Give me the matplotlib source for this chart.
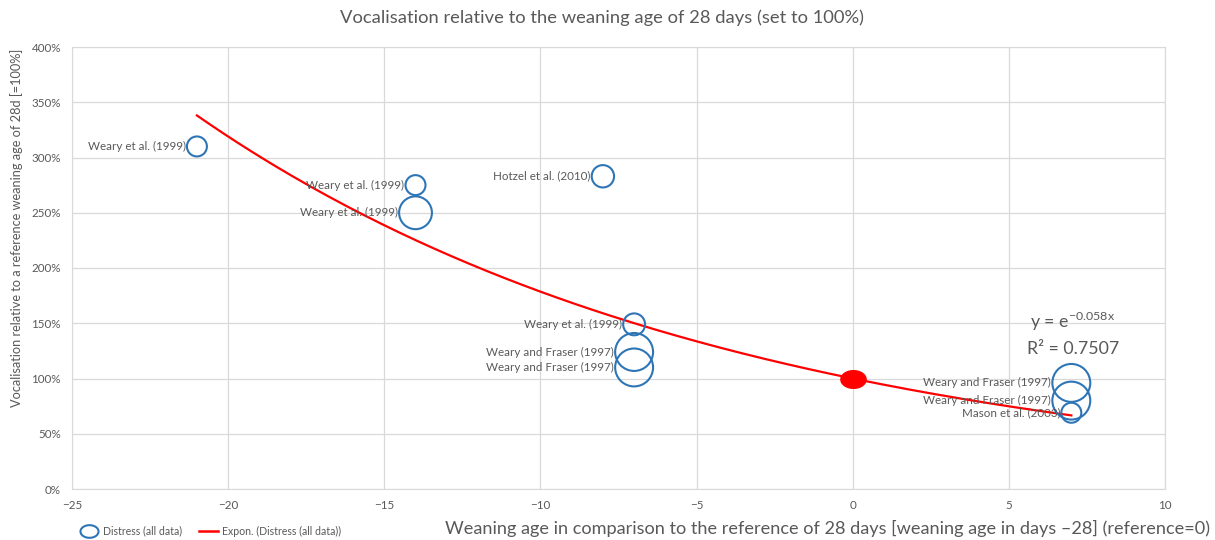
import numpy as np
import matplotlib.pyplot as plt
from matplotlib.lines import Line2D
from matplotlib.path import Path

# weaning age relative to 28 days, vocalisation in % of reference
age_diff = [-21, -14, -14, -8, -7, -7, -7, 7, 7, 7]
vocal = [310, 275, 250, 283, 149, 124, 110, 96, 80, 69]
bubble = [1.0, 1.0, 2.7, 1.25, 1.2, 3.6, 3.6, 3.6, 3.6, 1.0]
labels = ['Weary et al. (1999)', 'Weary et al. (1999)', 'Weary et al. (1999)',
          'Hotzel et al. (2010)', 'Weary et al. (1999)', 'Weary and Fraser (1997)',
          'Weary and Fraser (1997)', 'Weary and Fraser (1997)', 'Weary and Fraser (1997)',
          'Mason et al. (2003)']
ref_x, ref_y = 0, 100
trend_k = -0.058  # from trendline equation
r2 = 0.7507

grey = '#595959'
blue = '#2e75b6'
plt.rcParams['font.family'] = ['Lato', 'DejaVu Sans']

fig = plt.figure(figsize=(12.15, 5.4), dpi=100)
ax = fig.add_axes([72/1215, 51/540, 1093/1215, 442/540])

# bubble area in pt^2 (size 1 -> ~10 px radius)
s_unit = 207
sizes = [s_unit * b for b in bubble]
ax.scatter(age_diff, vocal, s=sizes, facecolors='none', edgecolors=blue, linewidths=1.5, zorder=3)

# reference point, drawn as a flat red ellipse
t = np.linspace(0, 2 * np.pi, 60)
ell = Path(np.column_stack([np.cos(t), 0.7 * np.sin(t)]), closed=True)
ax.scatter([ref_x], [ref_y], s=330, marker=ell, color='red', zorder=4)

# exponential trend line
xt = np.linspace(min(age_diff), max(age_diff), 200)
ax.plot(xt, 100 * np.exp(trend_k * xt), color='red', lw=1.6, zorder=2)

# data labels left of each bubble
for x, y, s, lab in zip(age_diff, vocal, sizes, labels):
    off = np.sqrt(s) / 2 + 0.8
    ax.annotate(lab, (x, y), xytext=(-off, 0), textcoords='offset points',
                ha='right', va='center', fontsize=8.4, color=grey, zorder=5)

ax.text(7.05, 146, r'y = e$^{\mathregular{-0.058x}}$', fontsize=12.8, color=grey, ha='center', va='baseline')
ax.text(7.05, 122, 'R² = %.4f' % r2, fontsize=12.8, color=grey, ha='center', va='baseline')

ax.set_xlim(-25, 10)
ax.set_ylim(0, 400)
ax.set_xticks(np.arange(-25, 11, 5))
ax.set_yticks(np.arange(0, 401, 50))
ax.set_yticklabels(['%d%%' % v for v in range(0, 401, 50)])
ax.tick_params(length=0, labelsize=8.4, colors=grey, pad=8)
ax.grid(True, color='#d9d9d9', lw=0.9)
ax.set_axisbelow(True)
for sp in ax.spines.values():
    sp.set_color('#d9d9d9')

fig.text(602/1215, 1 - 18/540, 'Vocalisation relative to the weaning age of 28 days (set to 100%)',
         ha='center', va='center', fontsize=13.2, color=grey)
fig.text(17/1215, 1 - 228/540, 'Vocalisation relative to a reference weaning age of 28d [=100%]',
         rotation=90, ha='center', va='center', fontsize=9.2, color=grey)
fig.text(1210/1215, 1 - 528/540,
         'Weaning age in comparison to the reference of 28 days [weaning age in days \u201328] (reference=0)',
         ha='right', va='center', fontsize=13.1, color=grey)

handles = [Line2D([], [], ls='none', marker=ell, markersize=13, markerfacecolor='none',
                  markeredgecolor=blue, markeredgewidth=1.5),
           Line2D([], [], color='red', lw=1.8)]
fig.legend(handles, ['Distress (all data)', 'Expon. (Distress (all data))'],
           loc='center left', bbox_to_anchor=(70/1215, 1 - 531/540), ncol=2, frameon=False,
           fontsize=7.6, labelcolor=grey, handlelength=1.8, handletextpad=0.4, columnspacing=1.6)

fig.savefig('out.png', dpi=100)
